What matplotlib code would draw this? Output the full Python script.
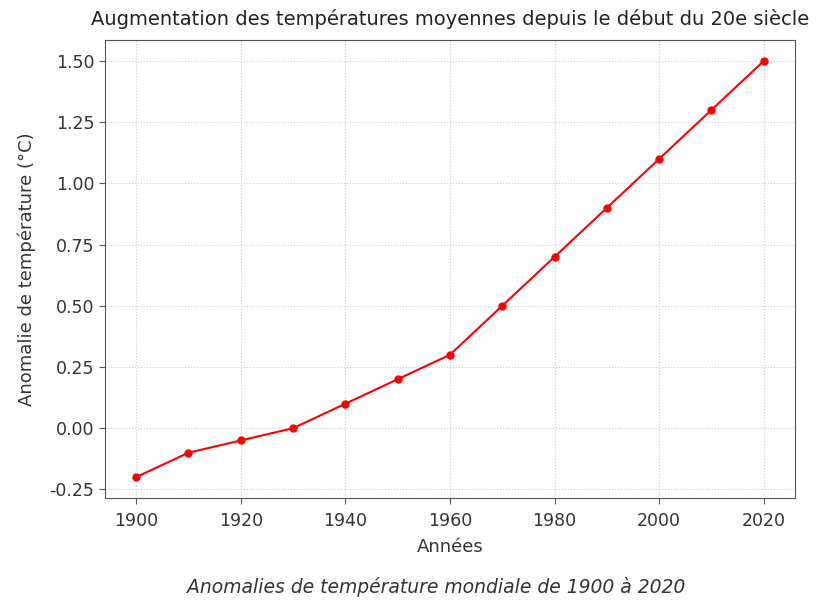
import numpy as np
import matplotlib
matplotlib.use("Agg")
import matplotlib.pyplot as plt

annees = [1900, 1910, 1920, 1930, 1940, 1950, 1960, 1970, 1980, 1990, 2000, 2010, 2020]
anomalies = [-0.2, -0.1, -0.05, 0.0, 0.1, 0.2, 0.3, 0.5, 0.7, 0.9, 1.1, 1.3, 1.5]

plt.rcParams['font.family'] = ['DejaVu Sans']

fig = plt.figure(figsize=(8.18, 6), dpi=100)
ax = fig.add_axes([0.128, 0.17, 0.844, 0.763])

ax.plot(annees, anomalies, color='red', marker='o', ms=5, lw=1.5)

ax.set_title("Augmentation des températures moyennes depuis le début du 20e siècle",
             fontsize=14, color='#222222', pad=11)
ax.set_xlabel("Années", fontsize=13, color='#333333', labelpad=6)
ax.set_ylabel("Anomalie de température (°C)", fontsize=13, color='#333333', labelpad=10)

ax.set_xticks([1900, 1920, 1940, 1960, 1980, 2000, 2020])
ax.set_yticks([-0.25, 0.0, 0.25, 0.5, 0.75, 1.0, 1.25, 1.5])
ax.yaxis.set_major_formatter(matplotlib.ticker.FormatStrFormatter('%.2f'))
ax.tick_params(labelsize=12.5, colors='#333333', length=4, color='#555555')
ax.tick_params(axis='x', pad=6)
ax.grid(True, linestyle=':', color='#cccccc', lw=0.8)
for s in ax.spines.values():
    s.set_color('#555555')

fig.text(0.533, 0.012, "Anomalies de température mondiale de 1900 à 2020",
         ha='center', fontsize=13.5, style='italic', color='#333333')

fig.savefig("out.png", dpi=100)
